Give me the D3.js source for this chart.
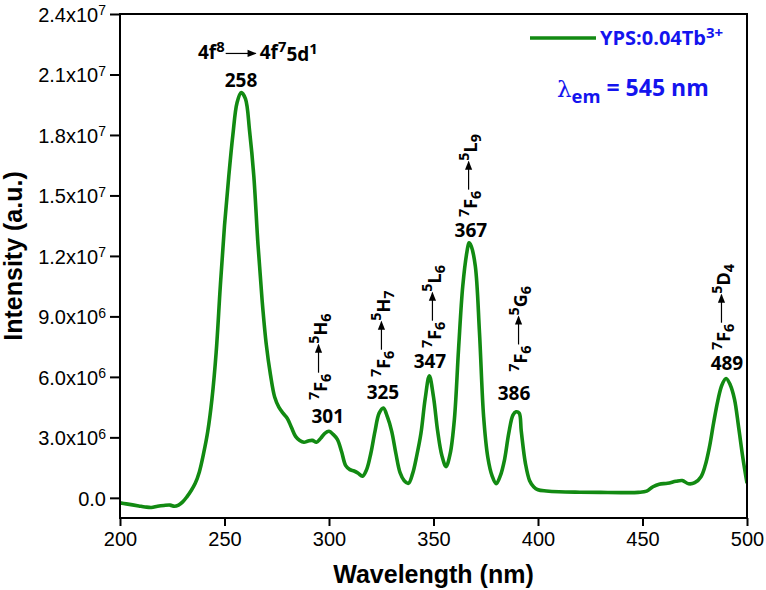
<!DOCTYPE html>
<html><head><meta charset="utf-8">
<script src="https://cdn.jsdelivr.net/npm/d3@7"></script>
<style>body{margin:0;background:#fff}svg{display:block}</style>
</head><body><svg id="c" width="766" height="590"></svg>
<script>
// ---------- data ----------
const wavelength = [200,203,206,209,212,215,218,221,224,226,228,230,232,234,236,238,240,242,244,246,248,250,252,254,256,258,260,262,264,266,268,270,272,274,276,278,280,282,284,286,288,290,292,294,296,298,300,302,304,306,308,310,312,314,316,318,320,322,324,326,328,330,332,334,336,338,340,342,344,346,348,350,352,354,356,358,360,362,364,366,367,368,370,372,374,376,378,380,382,384,386,388,389.5,391,392,394,396,398,400,404,410,420,430,440,448,452,455,458,462,466,469,472,475,478,480,482,484,486,488,490,492,494,496,498,500];
const intensity = [-0.25,-0.30,-0.35,-0.40,-0.45,-0.48,-0.42,-0.38,-0.36,-0.42,-0.36,-0.2,0.05,0.35,0.72,1.3,2.2,3.3,4.9,7.2,10.5,13.5,15.9,18.0,19.6,20.1,19.8,18.2,16.0,12.6,9.8,7.6,6.1,5.0,4.5,4.2,3.95,3.5,3.05,2.85,2.76,2.82,2.85,2.76,2.95,3.2,3.3,3.15,2.9,2.3,1.6,1.4,1.33,1.22,1.07,1.4,2.2,3.3,4.2,4.45,4.0,3.3,2.2,1.25,0.85,0.72,1.2,2.1,3.2,4.9,6.05,5.0,3.3,2.1,1.55,2.2,3.9,7.4,10.5,12.2,12.65,12.5,11.5,8.2,4.0,2.0,1.1,0.7,1.1,1.9,3.2,4.1,4.27,4.2,3.3,1.7,0.85,0.54,0.4,0.34,0.3,0.28,0.27,0.26,0.27,0.33,0.55,0.68,0.72,0.82,0.86,0.7,0.75,1.05,1.6,2.5,3.7,4.8,5.6,5.92,5.6,4.9,3.5,2.0,0.72].map(v => v * 1e6);

const xTicks = [200,250,300,350,400,450,500];
const yTicks = [0,3e6,6e6,9e6,1.2e7,1.5e7,1.8e7,2.1e7,2.4e7];
const yTickMantissa = ["0.0","3.0","6.0","9.0","1.2","1.5","1.8","2.1","2.4"];
const yTickExponent = ["","6","6","6","7","7","7","7","7"];

const peakLabels = ["258","301","325","347","367","386","489"];
const peakLabelX = [257.9,299.4,325.8,348.3,367.9,388.5,490.4];
const peakLabelY = [20.37e6,3.71e6,4.9e6,6.44e6,12.94e6,4.85e6,6.34e6];

// transitions 7F6 -> 5X_n
const transUpperLetter = ["H","H","L","L","G","D"];
const transUpperIndex = ["6","7","6","9","6","4"];
const transX = [298.1,328.2,352.6,369.9,393.8,490.9];
const transY = [4.85e6,5.99e6,7.43e6,13.93e6,6.25e6,7.33e6];

const seriesName = "YPS:0.04Tb";
const seriesSup = "3+";
const emissionNote = "545 nm";

// ---------- drawing ----------
const svg = d3.select("#c");
const L = 120, R = 747, T = 14, B = 518;
const x = d3.scaleLinear().domain([200,500]).range([L,R]);
const y = d3.scaleLinear().domain([-1.0e6,2.4e7]).range([B,T]);
const green = "#128a12", blue = "#1414ee";
const annFont = "'Open Sans', 'Noto Sans', sans-serif";
const axFont = "'Liberation Sans', Arial, sans-serif";

const defs = svg.append("defs");
defs.append("clipPath").attr("id","clip").append("rect")
  .attr("x",L).attr("y",T).attr("width",R-L).attr("height",B-T);
defs.append("marker").attr("id","ah").attr("viewBox","0 0 10 10")
  .attr("refX",9).attr("refY",5).attr("markerWidth",10).attr("markerHeight",9)
  .attr("markerUnits","userSpaceOnUse").attr("orient","auto")
  .append("path").attr("d","M0,1 L10,5 L0,9 Z").attr("fill","#000");

// curve
const line = d3.line().x((d,i)=>x(wavelength[i])).y(d=>y(d)).curve(d3.curveCatmullRom.alpha(0.5));
svg.append("path").datum(intensity).attr("d",line)
  .attr("fill","none").attr("stroke",green).attr("stroke-width",3.6)
  .attr("stroke-linejoin","round").attr("clip-path","url(#clip)");

// frame
svg.append("rect").attr("x",L).attr("y",T).attr("width",R-L).attr("height",B-T)
  .attr("fill","none").attr("stroke","#000").attr("stroke-width",2);

// x axis
const gx = svg.append("g").attr("transform",`translate(0,${B})`)
  .call(d3.axisBottom(x).tickValues(xTicks).tickSize(8).tickPadding(6).tickFormat(d3.format("d")));
gx.select(".domain").remove();
gx.selectAll(".tick line").attr("stroke-width",2);
gx.selectAll(".tick text").attr("font-family",axFont).attr("font-size",20).attr("fill","#000");

// y axis
const gy = svg.append("g").attr("transform",`translate(${L},0)`)
  .call(d3.axisLeft(y).tickValues(yTicks).tickSize(10).tickPadding(6).tickFormat(""));
gy.select(".domain").remove();
gy.selectAll(".tick line").attr("stroke-width",2);
gy.selectAll(".tick text").each(function(d,i){
  const t = d3.select(this).attr("font-family",axFont).attr("font-size",20).attr("fill","#000")
    .attr("x",-14).attr("dy","0.36em");
  if (yTickExponent[i]) {
    t.text(yTickMantissa[i] + "x10");
    t.append("tspan").attr("dy","-0.45em").attr("font-size","0.7em").text(yTickExponent[i]);
  } else t.text(yTickMantissa[i]);
});

// axis titles
svg.append("text").attr("x",(L+R)/2).attr("y",583).attr("text-anchor","middle")
  .attr("font-family",axFont).attr("font-weight","bold").attr("font-size",25).text("Wavelength (nm)");
svg.append("text").attr("transform","translate(22,256) rotate(-90)").attr("text-anchor","middle")
  .attr("font-family",axFont).attr("font-weight","bold").attr("font-size",25).text("Intensity (a.u.)");

// peak labels
svg.selectAll("text.pk").data(peakLabels).enter().append("text").attr("class","pk")
  .attr("x",(d,i)=>x(peakLabelX[i])).attr("y",(d,i)=>y(peakLabelY[i]))
  .attr("text-anchor","middle").attr("font-family",annFont).attr("font-weight","bold")
  .attr("font-size",19).attr("fill","#000").text(d=>d);

// helper: term with sup/sub
function term(sel, sup, letter, sub){
  sel.append("tspan").attr("dy","-0.45em").attr("font-size","0.8em").text(sup);
  sel.append("tspan").attr("dy","0.45em").text(letter);
  sel.append("tspan").attr("dy","0.3em").attr("font-size","0.8em").text(sub);
}

// rotated transition labels
transUpperLetter.forEach((ltr,i)=>{
  const g = svg.append("g").attr("transform",`translate(${x(transX[i])},${y(transY[i])}) rotate(-90)`);
  const t1 = g.append("text").attr("font-family",annFont).attr("font-weight","bold").attr("font-size",18);
  term(t1,"7","F","6");
  const w1 = t1.node().getComputedTextLength();
  const a0 = w1 + 1, a1 = a0 + 28;
  g.append("line").attr("x1",a0).attr("x2",a1).attr("y1",-6.5).attr("y2",-6.5)
    .attr("stroke","#000").attr("stroke-width",1.2).attr("marker-end","url(#ah)");
  const t2 = g.append("text").attr("x",a1+1).attr("font-family",annFont).attr("font-weight","bold").attr("font-size",18);
  term(t2,"5",ltr,transUpperIndex[i]);
});

// 4f8 -> 4f7 5d1
{
  const gx0 = x(237.3), gy0 = y(21.77e6);
  const g = svg.append("g").attr("transform",`translate(${gx0},${gy0})`);
  const t1 = g.append("text").attr("font-family",annFont).attr("font-weight","bold").attr("font-size",19);
  t1.append("tspan").text("4f");
  t1.append("tspan").attr("dy","-0.5em").attr("font-size","0.78em").text("8");
  const w1 = t1.node().getComputedTextLength();
  g.append("line").attr("x1",w1+1).attr("x2",w1+31).attr("y1",-5.5).attr("y2",-5.5)
    .attr("stroke","#000").attr("stroke-width",1.2).attr("marker-end","url(#ah)");
  const t2 = g.append("text").attr("x",w1+35).attr("font-family",annFont).attr("font-weight","bold").attr("font-size",19);
  t2.append("tspan").text("4f");
  t2.append("tspan").attr("dy","-0.5em").attr("font-size","0.78em").text("7");
  t2.append("tspan").attr("dy","0.5em").text("5d");
  t2.append("tspan").attr("dy","-0.5em").attr("font-size","0.78em").text("1");
}

// legend
svg.append("line").attr("x1",530).attr("x2",596).attr("y1",38).attr("y2",38)
  .attr("stroke",green).attr("stroke-width",3.6);
const lt = svg.append("text").attr("x",600).attr("y",45).attr("font-family",annFont)
  .attr("font-weight","bold").attr("font-size",20).attr("fill",blue);
lt.append("tspan").text(seriesName);
lt.append("tspan").attr("dy","-0.5em").attr("font-size","0.75em").text(seriesSup);

const et = svg.append("text").attr("x",557).attr("y",97).attr("font-family",annFont)
  .attr("font-weight","bold").attr("font-size",23).attr("fill",blue);
et.append("tspan").attr("font-weight","normal").attr("font-family","'DejaVu Serif', serif").text("λ");
et.append("tspan").attr("dy","0.3em").attr("font-size","0.8em").text("em");
et.append("tspan").attr("dy","-0.3em").text(" = " + emissionNote);
</script>
</body></html>
